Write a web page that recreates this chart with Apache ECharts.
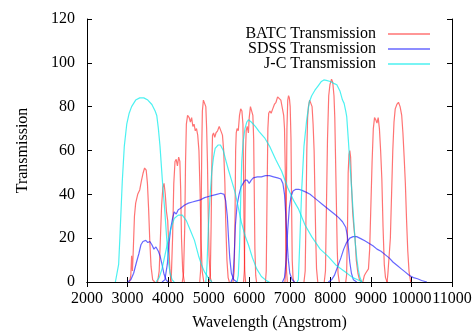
<!DOCTYPE html>
<html>
<head>
<meta charset="utf-8">
<script src="https://cdn.jsdelivr.net/npm/echarts@6.0.0/dist/echarts.min.js"></script>
<style>
  html, body { margin: 0; padding: 0; background: #fff; }
  #chart { width: 475px; height: 333px; }
</style>
</head>
<body>
<div id="chart"></div>
<script>
// x ticks and y ticks (gnuplot-like frame)
var xTicks = { min: 2000, max: 11000, step: 1000 };
var yTicks = { min: 0, max: 120, step: 20 };

// Johnson-Cousins filters: [wavelength (A), transmission]
var jcU = [[2700,0],[2740,0.5],[2780,8],[2810,20],[2840,33],[2870,46],[2920,62],[2980,72],[3040,77],[3100,80],[3200,83],[3300,84],[3400,84],[3500,83],[3600,81],[3680,78],[3720,76],[3760,70],[3800,62],[3860,46],[3920,32],[3965,20],[4010,9],[4050,4],[4100,1],[4150,0]];
var jcB = [[3700,0],[3780,2],[3850,6],[3920,12],[4000,19],[4080,25],[4150,29],[4250,30.5],[4350,30.5],[4450,28],[4550,23.5],[4650,19],[4750,12],[4830,7.5],[4900,4.5],[4990,2],[5080,0]];
var jcV = [[4930,0],[4960,8],[4990,24],[5030,38],[5075,50],[5120,57],[5160,61],[5230,62.5],[5290,62.5],[5360,60],[5430,55],[5490,51],[5570,46],[5650,41],[5730,34],[5810,27],[5900,21],[5980,17],[6080,11],[6185,6],[6300,2.5],[6430,0.5],[6500,0]];
var jcR = [[5700,0],[5730,3],[5760,15],[5790,38],[5815,55],[5850,64],[5895,70],[5940,73],[5980,74],[6050,73],[6150,71],[6250,68.5],[6390,65.5],[6500,62],[6650,56],[6800,50.5],[6950,43],[7100,37],[7210,33.5],[7376,26],[7540,20.7],[7750,15],[7951,11.6],[8150,7.5],[8362,4.7],[8550,2],[8690,0.9],[8780,0]];
var jcI = [[7180,0],[7212,1],[7250,20],[7294,42],[7350,62],[7417,74],[7480,82],[7540,85],[7620,87.5],[7700,89.5],[7780,91.5],[7840,92.2],[7900,92],[8000,91.5],[8100,90.5],[8160,90],[8240,87],[8300,83],[8340,81.5],[8380,78],[8404,75.5],[8444,64.8],[8490,52],[8527,42],[8570,30],[8609,19],[8650,11],[8690,5.5],[8730,2],[8780,0]];

// SDSS filters
var sdssU = [[3000,0],[3080,1],[3150,4],[3220,9],[3280,13],[3330,17],[3380,18.5],[3450,19],[3500,18],[3550,18.5],[3600,17],[3650,15],[3700,16],[3760,14],[3800,12],[3850,8],[3900,3.5],[3950,1],[4000,0]];
var sdssG = [[3850,0],[3920,1],[3980,8],[4020,17],[4060,24],[4110,29],[4150,32],[4200,31],[4250,33],[4300,33.5],[4400,35],[4500,36],[4600,36.5],[4700,37],[4800,37.5],[4900,38.5],[5000,39],[5100,39.5],[5200,40],[5300,40.5],[5380,40],[5420,37],[5460,30],[5490,20],[5520,11],[5560,4],[5620,1],[5700,0]];
var sdssR = [[5550,0],[5600,2],[5630,12],[5660,26],[5700,35],[5750,40],[5800,43.5],[5850,45],[5900,46.5],[5950,46.5],[6000,45],[6050,46.5],[6100,47.5],[6200,48],[6300,48],[6400,48.5],[6500,48.5],[6600,48],[6700,47.5],[6780,47],[6830,45],[6870,40],[6900,31],[6930,20],[6960,11],[7000,4],[7060,1],[7120,0]];
var sdssI = [[6820,0],[6870,2],[6910,10],[6950,24],[6990,34],[7030,39],[7080,41.5],[7150,42.3],[7220,42.3],[7300,41.8],[7400,41],[7500,40],[7600,38.5],[7700,37],[7800,35.5],[7900,34],[8000,32.5],[8100,31],[8200,29.5],[8300,27.5],[8380,25],[8420,21],[8450,15],[8480,9],[8520,4],[8570,1],[8650,0]];
var sdssZ = [[7950,0],[8030,1],[8100,3],[8180,7],[8260,11],[8330,15],[8400,18],[8480,20],[8560,20.7],[8650,20.7],[8750,19.8],[8850,18.8],[8950,17.7],[9050,16.5],[9150,15],[9250,14],[9350,12.5],[9450,11],[9550,9],[9650,7.5],[9750,6],[9850,4.5],[9950,3],[10050,2],[10150,1.5],[10250,0.7],[10380,0]];

// BATC intermediate-band filters
var batcA = [[3050,0],[3080,3],[3100,12],[3120,5],[3140,14],[3170,30],[3200,36],[3250,40],[3300,42],[3340,46],[3380,49.5],[3420,52],[3460,51],[3490,45],[3520,33],[3550,18],[3580,7],[3620,1],[3670,0]];
var batcB = [[3740,0],[3780,5],[3810,20],[3840,35],[3870,43],[3900,45],[3930,40],[3960,32],[3990,28],[4020,15],[4050,4],[4080,0]];
var batcC = [[4050,0],[4080,3],[4110,20],[4140,45],[4170,55],[4200,56],[4230,53],[4260,57],[4290,55],[4310,42],[4330,20],[4360,5],[4400,0]];
var batcD = [[4350,0],[4380,4],[4410,25],[4430,55],[4450,72],[4480,76],[4520,75],[4550,73],[4580,75],[4610,71],[4640,72],[4670,69],[4700,70],[4730,67],[4760,60],[4790,40],[4810,20],[4840,5],[4880,0]];
var batcE = [[4780,0],[4800,5],[4815,30],[4830,62],[4845,78],[4870,83],[4900,83],[4930,80],[4950,70],[4970,55],[4990,30],[5010,12],[5040,2],[5070,0]];
var batcF = [[5010,0],[5040,3],[5060,25],[5080,55],[5095,67],[5120,68],[5150,66],[5180,68],[5220,69],[5260,71],[5300,70.5],[5340,67],[5370,60],[5400,45],[5420,28],[5450,10],[5480,2],[5510,0]];
var batcG = [[5600,0],[5630,5],[5650,30],[5665,60],[5680,68],[5700,70],[5730,69],[5760,76],[5790,79],[5820,78],[5845,72],[5860,50],[5875,20],[5890,5],[5910,0]];
var batcH = [[5860,0],[5880,5],[5895,30],[5910,60],[5925,69],[5950,71],[5980,68],[6000,75],[6030,80],[6060,80.5],[6090,76],[6110,65],[6125,40],[6140,15],[6160,3],[6180,0]];
var batcI = [[6400,0],[6420,5],[6440,40],[6460,70],[6480,77],[6510,78],[6540,77],[6580,79],[6620,81],[6660,82],[6700,84.5],[6740,85],[6780,83],[6820,79],[6850,76],[6870,70],[6890,50],[6905,20],[6920,5],[6940,0]];
var batcJ = [[6880,0],[6900,5],[6915,35],[6930,70],[6950,83],[6970,85],[6990,84],[7010,80],[7030,65],[7045,35],[7060,10],[7080,2],[7100,0]];
var batcK = [[7350,0],[7380,5],[7400,30],[7420,60],[7440,75],[7460,80],[7490,83],[7520,83.5],[7550,80],[7575,72],[7600,60],[7620,40],[7640,20],[7660,6],[7690,0]];
var batcL = [[7850,0],[7880,5],[7900,30],[7930,65],[7960,85],[7990,90],[8030,92.5],[8060,91],[8090,85],[8110,75],[8130,55],[8150,35],[8170,15],[8190,4],[8220,0]];
var batcM = [[8380,0],[8400,3],[8420,20],[8440,50],[8460,58],[8480,60],[8500,57],[8520,45],[8550,32],[8580,25],[8610,20],[8640,10],[8680,4],[8720,1],[8780,0]];
var batcN = [[8800,0],[8840,3],[8870,4],[8900,4.5],[8940,6],[8970,15],[9000,35],[9030,55],[9060,70],[9090,75],[9120,74],[9150,72.5],[9180,75],[9210,70],[9240,60],[9270,47],[9300,25],[9330,8],[9360,2],[9400,0]];
var batcO = [[9400,0],[9420,4],[9450,12],[9480,20],[9510,40],[9540,60],[9570,73],[9600,79],[9640,81],[9680,82],[9720,80],[9760,76],[9790,68],[9820,57],[9850,45],[9880,28],[9910,14],[9940,5],[9980,0]];

var batcFilters = [batcA, batcB, batcC, batcD, batcE, batcF, batcG, batcH, batcI, batcJ, batcK, batcL, batcM, batcN, batcO];
var sdssFilters = [sdssU, sdssG, sdssR, sdssI, sdssZ];
var jcFilters = [jcU, jcB, jcV, jcR, jcI];

var FONT = "'Liberation Serif', 'DejaVu Serif', serif";

function filterSeries(name, color, filters) {
  return filters.map(function (f) {
    return {
      type: 'line',
      name: name,
      data: f,
      symbol: 'none',
      showSymbol: false,
      silent: true,
      lineStyle: { color: color, width: 1.2 },
      itemStyle: { color: color }
    };
  });
}

var series = []
  .concat(filterSeries('BATC Transmission', 'rgba(255,0,0,0.55)', batcFilters))
  .concat(filterSeries('SDSS Transmission', 'rgba(0,0,255,0.6)', sdssFilters))
  .concat(filterSeries('J-C Transmission', 'rgba(0,235,235,0.7)', jcFilters));

var axisLine = { show: true, lineStyle: { color: '#000', width: 1 } };
var tick = { show: true, inside: true, length: 5, lineStyle: { color: '#000' } };
var label = { fontFamily: FONT, fontSize: 16, color: '#000' };

var option = {
  animation: false,
  backgroundColor: '#fff',
  grid: { left: 87, right: 23, top: 19, bottom: 51, outerBoundsMode: 'none' },
  legend: {
    data: ['BATC Transmission', 'SDSS Transmission', 'J-C Transmission'],
    orient: 'vertical',
    right: 40,
    top: 21,
    align: 'right',
    icon: 'rect',
    itemWidth: 42,
    itemHeight: 1.5,
    itemGap: -1,
    selectedMode: false,
    textStyle: { fontFamily: FONT, fontSize: 16, color: '#000', padding: [0, 7, 0, 0] }
  },
  xAxis: [
    {
      type: 'value',
      min: xTicks.min, max: xTicks.max, interval: xTicks.step,
      name: 'Wavelength (Angstrom)',
      nameLocation: 'middle',
      nameGap: 33,
      nameTextStyle: { fontFamily: FONT, fontSize: 16, color: '#000' },
      axisLine: axisLine, axisTick: tick,
      axisLabel: Object.assign({ margin: 9, hideOverlap: false, showMaxLabel: true, formatter: function (v) { return String(v); } }, label),
      splitLine: { show: false }
    },
    {
      type: 'value', position: 'top',
      min: xTicks.min, max: xTicks.max, interval: xTicks.step,
      axisLine: axisLine, axisTick: tick,
      axisLabel: { show: false }, splitLine: { show: false }
    }
  ],
  yAxis: [
    {
      type: 'value',
      min: yTicks.min, max: yTicks.max, interval: yTicks.step,
      name: 'Transmission',
      nameLocation: 'middle',
      nameGap: 56,
      nameTextStyle: { fontFamily: FONT, fontSize: 16, color: '#000' },
      axisLine: axisLine, axisTick: tick,
      axisLabel: Object.assign({ margin: 12 }, label),
      splitLine: { show: false }
    },
    {
      type: 'value', position: 'right',
      min: yTicks.min, max: yTicks.max, interval: yTicks.step,
      axisLine: axisLine, axisTick: tick,
      axisLabel: { show: false }, splitLine: { show: false }
    }
  ],
  series: series
};

var myChart = echarts.init(document.getElementById('chart'));
myChart.setOption(option);
</script>
</body>
</html>
